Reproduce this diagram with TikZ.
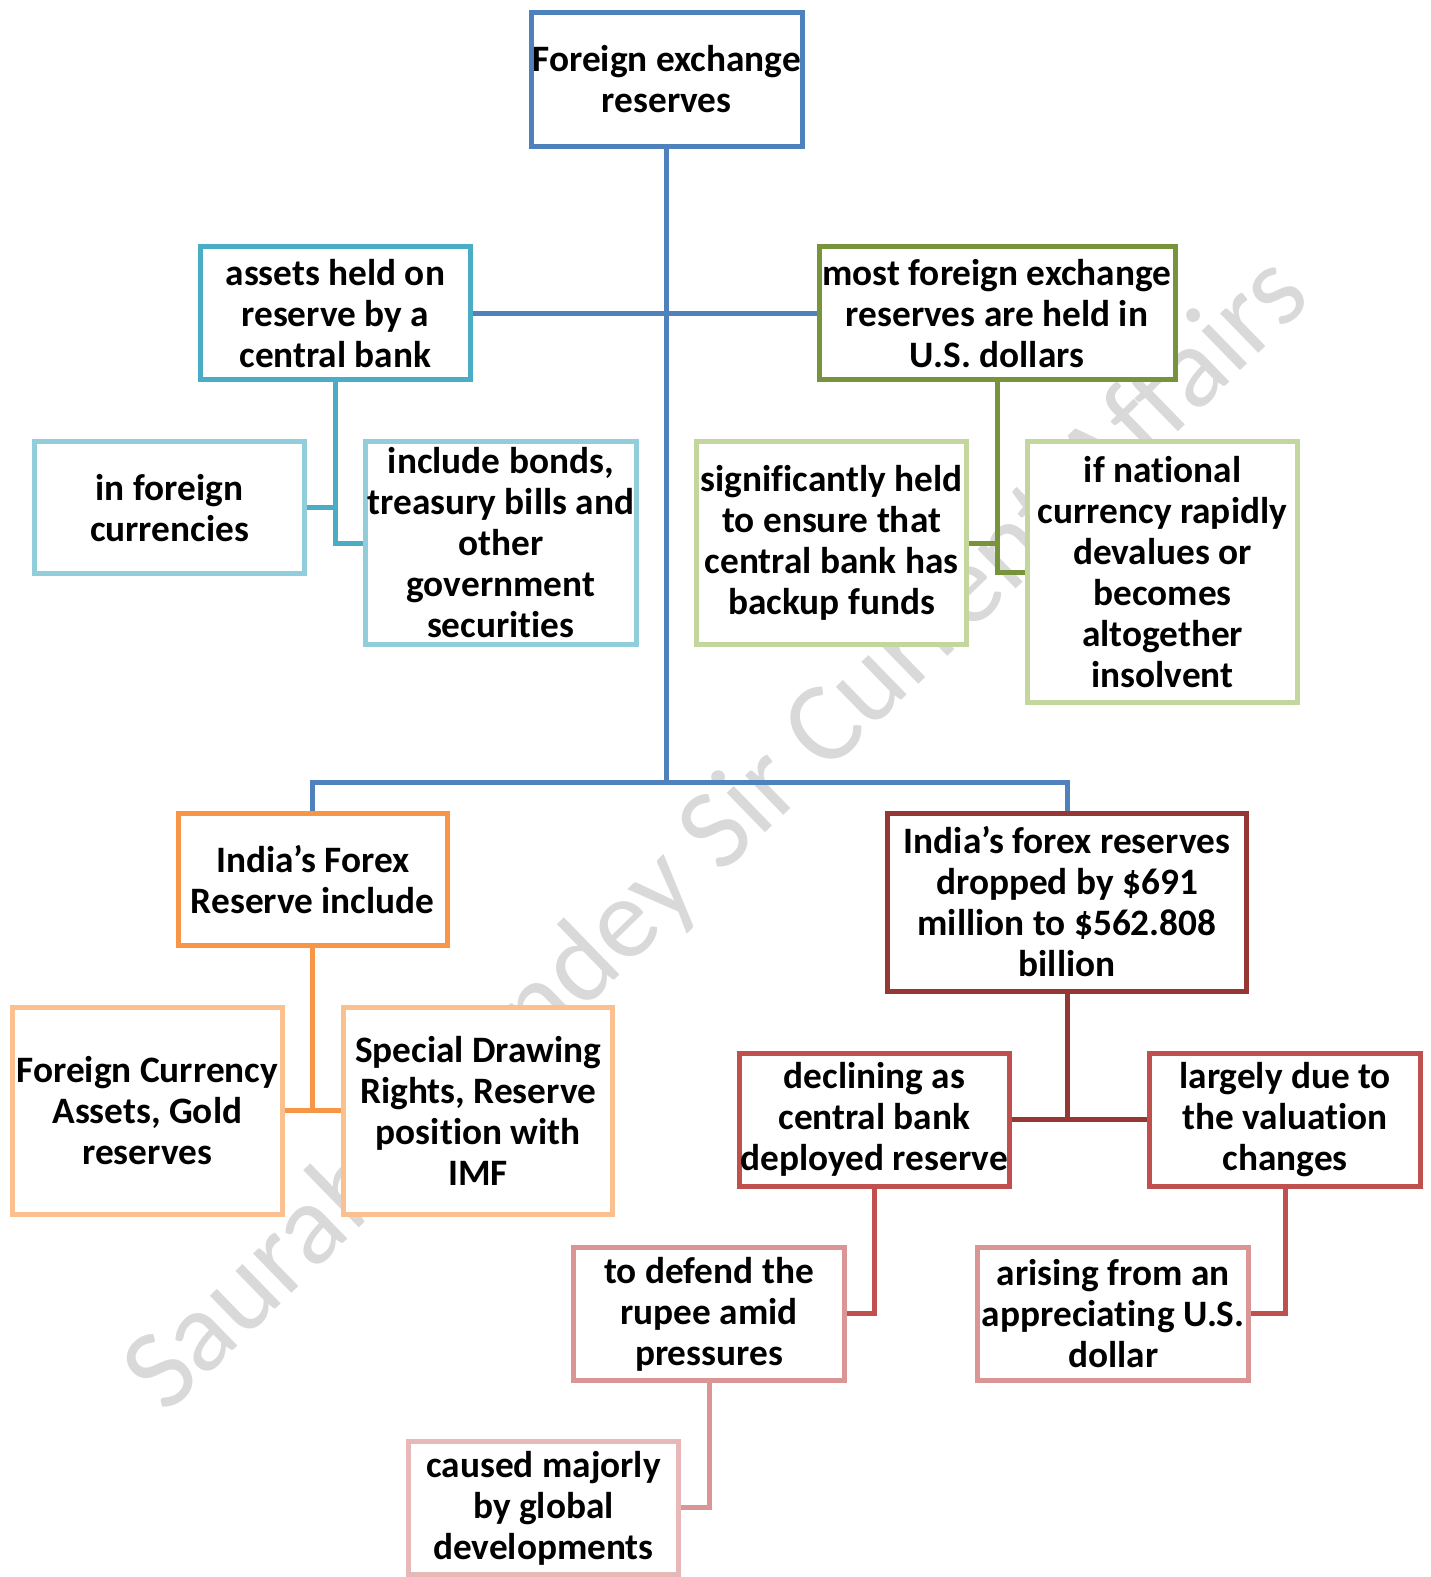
\documentclass[tikz,border=0pt]{standalone}
\usepackage{fontspec}
\setmainfont{Carlito}[RawFeature=-liga]
\definecolor{cblue}{HTML}{4F81BD}
\definecolor{cteal}{HTML}{4BACC6}
\definecolor{clteal}{HTML}{92CDDC}
\definecolor{cgreen}{HTML}{77933C}
\definecolor{clgreen}{HTML}{C3D69B}
\definecolor{corange}{HTML}{F79646}
\definecolor{clorange}{HTML}{FAC090}
\definecolor{cdred}{HTML}{953735}
\definecolor{cred}{HTML}{C0504D}
\definecolor{cpink}{HTML}{D99694}
\definecolor{clpink}{HTML}{E6B9B8}
\definecolor{wmark}{HTML}{D9D9D9}
\tikzset{
  box/.style={draw=#1, line width=5pt, fill=white, inner sep=0pt, align=center,
    font=\bfseries\fontsize{37.3}{41}\selectfont, text=black},
  conn/.style={draw=#1, line width=5pt},
  wm/.style={text=wmark, font=\fontsize{115}{120}\selectfont, inner sep=0pt}
}
\newcommand{\bx}[7]{\node[box=#1, minimum width=#4pt-5pt, minimum height=#5pt-5pt] (#2) at (#3) {#6};}
\begin{document}
\begin{tikzpicture}[x=1pt,y=-1pt]
\useasboundingbox (0,0) rectangle (1431,1577);
\clip (0,0) rectangle (1431,1577);
% watermark
\node[wm, anchor=base west, rotate=44.2] (wmtext) at (166,1416) {Saurabh Pandey Sir Current Affairs};
\coordinate (hub) at (666.75,782.4);
% boxes
\bx{cblue}{root}{666.75,79.4}{275.5}{139}{Foreign exchange\\reserves}{}
\bx{cteal}{assets}{335.3,313.2}{274.6}{137.6}{assets held on\\reserve by a\\central bank}{}
\bx{cgreen}{most}{997,313.2}{361}{137.6}{most foreign exchange\\reserves are held in\\U.S. dollars}{}
\bx{clteal}{cur}{169.5,507.8}{274.5}{136.8}{in foreign\\currencies}{}
\bx{clteal}{bonds}{500.8,543}{275.6}{207.2}{include bonds,\\treasury bills and\\other\\government\\securities}{}
\bx{clgreen}{sig}{831.6,543}{275.5}{207.2}{significantly held\\to ensure that\\central bank has\\backup funds}{}
\bx{clgreen}{ifnat}{1162.5,572.2}{275.5}{265.6}{if national\\currency rapidly\\devalues or\\becomes\\altogether\\insolvent}{}
\bx{corange}{india}{312.75,879.4}{273.5}{137.8}{India’s Forex\\Reserve include}{}
\bx{cdred}{drop}{1067,902}{364}{183}{India’s forex reserves\\dropped by \$691\\million to \$562.808\\billion}{}
\bx{clorange}{fca}{147.3,1110.7}{274.6}{212.2}{Foreign Currency\\Assets, Gold\\reserves}{}
\bx{clorange}{sdr}{478.2,1110.7}{274.4}{212.2}{Special Drawing\\Rights, Reserve\\position with\\IMF}{}
\bx{cred}{decl}{874.3,1119.7}{274.6}{137.7}{declining as\\central bank\\deployed reserve}{}
\bx{cred}{larg}{1285.2,1119.7}{275.6}{137.7}{largely due to\\the valuation\\changes}{}
\bx{cpink}{defend}{709,1313.9}{275.5}{137.7}{to defend the\\rupee amid\\pressures}{}
\bx{cpink}{arising}{1113.2,1313.9}{275.6}{137.7}{arising from an\\appreciating U.S.\\dollar}{}
\bx{clpink}{caused}{543.5,1507.9}{274.5}{137.8}{caused majorly\\by global\\developments}{}
% connectors
\draw[conn=cblue] (root.south) -- (hub);
\draw[conn=cblue] (assets.east) -- (most.west);
\draw[conn=cblue] (india.north) |- (hub) -| (drop.north);
\draw[conn=cteal] (assets.south) |- (bonds.west);
\draw[conn=cteal] (cur.east) -- (cur.east -| assets.south);
\draw[conn=cgreen] (most.south) |- (ifnat.west);
\draw[conn=cgreen] (sig.east) -- (sig.east -| most.south);
\draw[conn=corange] (india.south) -- (india.south |- fca.east);
\draw[conn=corange] (fca.east) -- (sdr.west);
\draw[conn=cdred] (drop.south) -- (drop.south |- decl.east);
\draw[conn=cdred] (decl.east) -- (larg.west);
\draw[conn=cred] (decl.south) |- (defend.east);
\draw[conn=cred] (larg.south) |- (arising.east);
\draw[conn=cpink] (defend.south) |- (caused.east);
\end{tikzpicture}
\end{document}
